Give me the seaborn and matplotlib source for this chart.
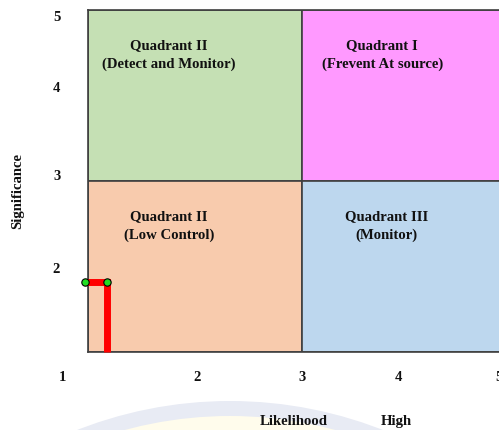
import matplotlib
matplotlib.use("Agg")
import matplotlib.pyplot as plt
from matplotlib.patches import Rectangle, Circle
import seaborn as sns
import pandas as pd

# Quadrant layout (likelihood x significance)
quad_x0 = [1, 3, 1, 3]
quad_y0 = [3, 3, 1, 1]
quad_w = [2, 2, 2, 2]
quad_h = [2, 2, 2, 2]
quad_colors = ["#C5E0B4", "#FF99FF", "#F8CBAD", "#BDD7EE"]
quad_titles = ["Quadrant II", "Quadrant I", "Quadrant II", "Quadrant III"]
quad_subtitles = ["(Detect and Monitor)", "(Frevent At source)", "(Low Control)", "(Monitor)"]
title_x = [1.757, 3.75, 1.757, 3.79]
title_y = [4.60, 4.60, 2.60, 2.60]
subtitle_y = [4.38, 4.38, 2.38, 2.38]

# Risk trace
trace_x = [0.972, 1.178, 1.178]
trace_y = [1.82, 1.82, 1.0]
point_x = [0.972, 1.178]
point_y = [1.82, 1.82]

# Tick labels (the shared origin label "1" sits at the lower-left corner)
origin_label = "1"
origin_pos = 0.766
xtick_labels = ["2", "3", "4", "5"]
xtick_pos = [2.02, 3.0, 3.897, 4.84]
ytick_labels = ["2", "3", "4", "5"]
ytick_pos = [1.99, 3.08, 4.11, 4.94]

sns.set_theme(style="white")
plt.rcParams["font.family"] = ["Liberation Serif", "DejaVu Serif"]
plt.rcParams["font.weight"] = "bold"

W, H = 499, 431
FS = 10.6
fig = plt.figure(figsize=(W / 100, H / 100), dpi=100)

# faint background arc near the bottom
fig.add_artist(Circle((230, H - 820), 418, transform=None, facecolor="#E8EBF4",
                      edgecolor="none", zorder=0))
fig.add_artist(Circle((230, H - 820), 403, transform=None, facecolor="#FFFCEC",
                      edgecolor="none", zorder=0))

ax = fig.add_axes([88 / W, 1 - 353 / H, 428 / W, 342 / H])

for x0, y0, w, h, c in zip(quad_x0, quad_y0, quad_w, quad_h, quad_colors):
    ax.add_patch(Rectangle((x0, y0), w, h, facecolor=c, edgecolor="#3F3F3F",
                           linewidth=1.2, zorder=1))

for tx, ty, sy, t, s in zip(title_x, title_y, subtitle_y, quad_titles, quad_subtitles):
    ax.text(tx, ty, t, ha="center", va="center", fontsize=FS,
            fontweight="bold", color="#111111", zorder=3)
    ax.text(tx, sy, s, ha="center", va="center", fontsize=FS,
            fontweight="bold", color="#111111", zorder=3)

trace = pd.DataFrame({"x": trace_x, "y": trace_y})
sns.lineplot(data=trace, x="x", y="y", sort=False, estimator=None,
             color="#FF0000", linewidth=5, solid_joinstyle="miter",
             solid_capstyle="butt", ax=ax, zorder=4, clip_on=False)
pts = pd.DataFrame({"x": point_x, "y": point_y})
sns.scatterplot(data=pts, x="x", y="y", color="#22DD22", edgecolor="black",
                linewidth=0.8, s=28, ax=ax, zorder=5, clip_on=False)

ax.set_xticks(xtick_pos, xtick_labels)
ax.set_yticks(ytick_pos, ytick_labels)
ax.set_xlim(1, 5)
ax.set_ylim(1, 5)
ax.tick_params(axis="both", length=0, labelsize=10.5, colors="#111111")
ax.tick_params(axis="x", pad=13)
ax.tick_params(axis="y", pad=20)
for lbl in ax.get_xticklabels() + ax.get_yticklabels():
    lbl.set_fontweight("bold")
ax.annotate(origin_label, xy=(origin_pos, 1), xycoords="data",
            xytext=(0, -13 * 100 / 72), textcoords="offset pixels",
            ha="center", va="top", fontsize=10.5, fontweight="bold",
            color="#111111", annotation_clip=False)
ax.set_xlabel("")
ax.set_ylabel("")
for sp in ax.spines.values():
    sp.set_color("#3F3F3F")
    sp.set_linewidth(1.2)
    sp.set_zorder(2)

fig.text(18 / W, 1 - 191 / H, "Significance", rotation=90, ha="center",
         va="center", fontsize=FS, fontweight="bold", color="#111111")
fig.text(294 / W, 1 - 422 / H, "Likelihood", ha="center", va="center",
         fontsize=FS, fontweight="bold", color="#111111")
fig.text(396 / W, 1 - 422 / H, "High", ha="center", va="center",
         fontsize=FS, fontweight="bold", color="#111111")

fig.savefig("out.png", dpi=100)
